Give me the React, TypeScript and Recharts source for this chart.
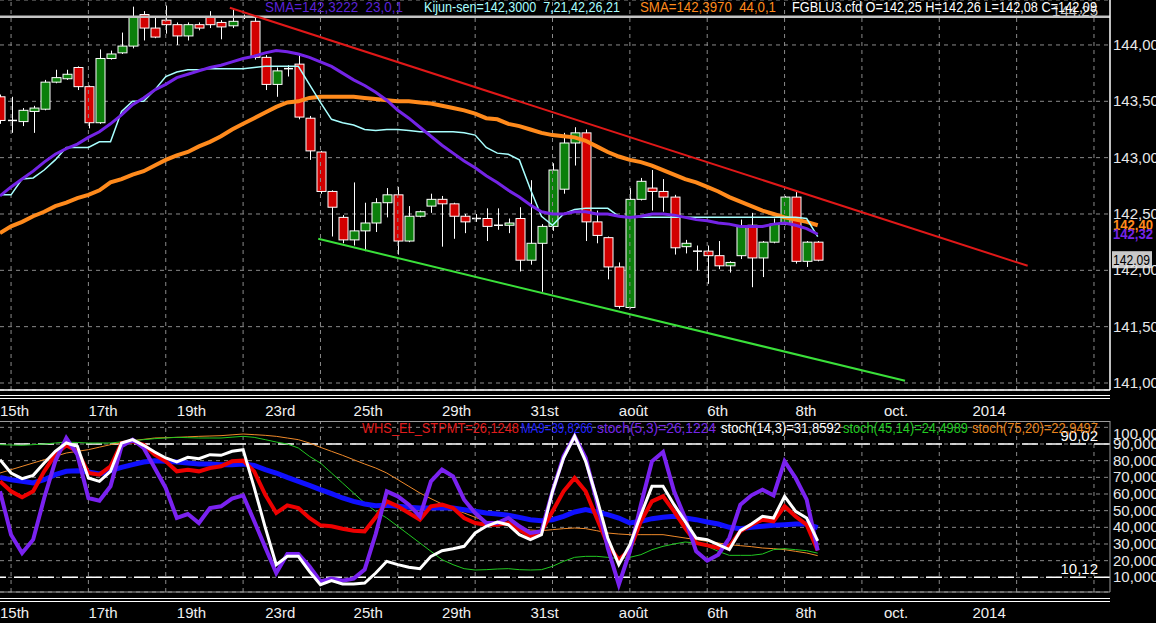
import React from 'react';
import { ComposedChart, Bar, Line, XAxis, YAxis, CartesianGrid, ReferenceLine } from 'recharts';

// FGBLU3 candles, one per bar, oldest first
const open = [
  143.54, 143.33, 143.32, 143.41, 143.43, 143.67, 143.70, 143.80, 143.63, 143.31,
  143.88, 143.93, 143.99, 144.27, 144.15, 144.22, 144.18, 144.08, 144.18, 144.25,
  144.20, 144.17, 144.25, 144.21, 143.89, 143.65, 143.79, 143.83, 143.35, 143.05,
  142.70, 142.47, 142.27, 142.35, 142.42, 142.60, 142.67, 142.26, 142.48, 142.57,
  142.63, 142.59, 142.48, 142.46, 142.46, 142.40, 142.40, 142.46, 142.09, 142.24,
  142.39, 142.72, 143.13, 143.22, 142.43, 142.29, 142.03, 141.67, 142.63, 142.73,
  142.70, 142.65, 142.21, 142.17, 142.17, 142.13, 142.04, 142.13, 142.40, 142.11,
  142.25, 142.41, 142.65, 142.08, 142.25,
];
const close = [
  143.33, 143.33, 143.42, 143.44, 143.67, 143.71, 143.74, 143.63, 143.31, 143.88,
  143.92, 143.99, 144.25, 144.15, 144.07, 144.18, 144.08, 144.18, 144.15, 144.18,
  144.16, 144.21, 144.25, 143.89, 143.65, 143.77, 143.79, 143.36, 143.06, 142.70,
  142.56, 142.27, 142.35, 142.42, 142.60, 142.67, 142.26, 142.48, 142.52, 142.63,
  142.59, 142.48, 142.43, 142.46, 142.39, 142.40, 142.42, 142.09, 142.24, 142.39,
  142.89, 143.13, 143.22, 142.43, 142.31, 142.03, 141.68, 142.63, 142.79, 142.70,
  142.65, 142.20, 142.24, 142.17, 142.13, 142.04, 142.07, 142.39, 142.11, 142.25,
  142.41, 142.65, 142.08, 142.25, 142.09,
];
const high = [
  143.56, 143.54, 143.44, 143.46, 143.69, 143.78, 143.78, 143.81, 143.64, 143.96,
  143.95, 144.11, 144.34, 144.30, 144.24, 144.35, 144.20, 144.20, 144.20, 144.30,
  144.22, 144.32, 144.27, 144.25, 143.91, 143.80, 143.82, 143.91, 143.37, 143.06,
  142.71, 142.49, 142.78, 142.60, 142.64, 142.73, 142.74, 142.57, 142.53, 142.68,
  142.66, 142.60, 142.50, 142.50, 142.55, 142.55, 142.46, 142.56, 142.80, 142.41,
  142.95, 143.22, 143.27, 143.25, 142.53, 142.30, 142.07, 142.73, 142.82, 142.89,
  142.81, 142.67, 142.27, 142.22, 142.22, 142.26, 142.08, 142.45, 142.51, 142.26,
  142.46, 142.66, 142.70, 142.26, 142.26,
];
const low = [
  143.30, 143.22, 143.28, 143.22, 143.42, 143.66, 143.69, 143.60, 143.26, 143.30,
  143.87, 143.92, 143.97, 144.04, 144.06, 144.10, 144.00, 144.04, 144.13, 144.15,
  144.05, 144.15, 144.23, 143.87, 143.60, 143.54, 143.72, 143.34, 142.98, 142.68,
  142.30, 142.24, 142.22, 142.17, 142.34, 142.47, 142.14, 142.25, 142.47, 142.51,
  142.21, 142.28, 142.33, 142.43, 142.26, 142.36, 142.33, 141.99, 142.05, 141.81,
  142.35, 142.68, 142.93, 142.26, 142.24, 141.92, 141.66, 141.66, 142.62, 142.53,
  142.52, 142.14, 142.15, 142.00, 141.88, 142.01, 141.98, 142.10, 141.85, 141.94,
  142.24, 142.40, 142.06, 142.03, 142.08,
];

const sma23 = [
  142.66, 142.74, 142.81, 142.88, 142.96, 143.03, 143.08, 143.12, 143.18, 143.23,
  143.30, 143.38, 143.47, 143.53, 143.60, 143.65, 143.71, 143.74, 143.77, 143.80,
  143.82, 143.85, 143.88, 143.90, 143.93, 143.95, 143.94, 143.92, 143.89, 143.85,
  143.81, 143.75, 143.69, 143.64, 143.58, 143.51, 143.42, 143.35, 143.27, 143.19,
  143.11, 143.04, 142.97, 142.91, 142.84, 142.78, 142.71, 142.65, 142.58, 142.52,
  142.50, 142.50, 142.52, 142.52, 142.50, 142.50, 142.48, 142.47, 142.48, 142.50,
  142.50, 142.49, 142.47, 142.45, 142.44, 142.42, 142.41, 142.39, 142.39, 142.39,
  142.41, 142.42, 142.40, 142.37, 142.32,
];
const sma44 = [
  142.33, 142.39, 142.43, 142.48, 142.52, 142.57, 142.60, 142.64, 142.67, 142.71,
  142.78, 142.81, 142.85, 142.88, 142.93, 142.98, 143.02, 143.05, 143.10, 143.14,
  143.19, 143.25, 143.30, 143.35, 143.40, 143.45, 143.49, 143.50, 143.53, 143.54,
  143.54, 143.54, 143.54, 143.53, 143.52, 143.51, 143.50, 143.50, 143.49, 143.48,
  143.46, 143.44, 143.42, 143.39, 143.35, 143.34, 143.30, 143.28, 143.25, 143.22,
  143.20, 143.19, 143.18, 143.15, 143.10, 143.05, 143.01, 142.98, 142.96, 142.93,
  142.89, 142.85, 142.81, 142.78, 142.74, 142.70, 142.65, 142.61, 142.57, 142.53,
  142.50, 142.47, 142.45, 142.43, 142.40,
];
const kijun = [
  142.67, 142.67, 142.81, 142.82, 142.89, 142.98, 143.09, 143.09, 143.09, 143.14,
  143.14, 143.41, 143.50, 143.50, 143.60, 143.72, 143.76, 143.78, 143.78, 143.79,
  143.79, 143.79, 143.79, 143.80, 143.81, 143.81, 143.81, 143.81, 143.65, 143.49,
  143.34, 143.31, 143.29, 143.25, 143.24, 143.25, 143.25, 143.24, 143.23, 143.23,
  143.23, 143.23, 143.22, 143.20, 143.09, 143.04, 143.03, 142.98, 142.72, 142.48,
  142.40, 142.50, 142.54, 142.55, 142.55, 142.55, 142.48, 142.47, 142.47, 142.47,
  142.47, 142.47, 142.47, 142.47, 142.47, 142.47, 142.47, 142.47, 142.47, 142.47,
  142.47, 142.47, 142.47, 142.46, 142.30,
];

// oscillator panel
const whs = [
  67.6, 61.6, 58, 61.6, 73.6, 83.6, 89.2, 85.6, 72.6, 71.6,
  76.6, 90.6, 91.6, 89.6, 83.6, 79.6, 73.6, 74.6, 73.6, 75.6,
  76.6, 79.6, 80, 73.6, 59.6, 48.6, 53.2, 51.6, 45.6, 41.2,
  40.6, 39.2, 38, 37.6, 46, 55.6, 52.6, 48.6, 44.6, 52.6,
  53.6, 51.6, 45.6, 42.6, 41.6, 41.6, 42.6, 38.6, 34.6, 37.6,
  49.6, 61.6, 69.6, 61.6, 45.6, 29.6, 20.6, 26.6, 43.6, 55.6,
  58.6, 49.6, 39.6, 30.6, 29.2, 27.6, 28.6, 37.6, 41.6, 44.6,
  43.6, 52.6, 46.6, 41.6, 26.1,
];
const ma9 = [
  70, 68.6, 67.6, 66.6, 68.6, 71.6, 73.6, 74, 73.2, 72,
  74, 76, 77.6, 79.2, 80, 79.6, 79.2, 78.6, 78, 78,
  77.6, 77.6, 78, 77.2, 74.6, 72.6, 70, 67.6, 65.2, 62.6,
  60.2, 57.6, 55.6, 54, 53, 53.2, 52.6, 52, 51.6, 51.6,
  51.6, 51.6, 50.6, 49.6, 48.6, 48, 47.2, 46, 44.6, 44,
  44.6, 46.6, 49.2, 50.6, 49.2, 47.6, 45.6, 42.6, 43.6, 45.2,
  46, 46.6, 45.6, 44.6, 43.2, 42, 40, 39.2, 40, 40.6,
  41.2, 41.6, 42, 42, 39.8,
];
const stoch53 = [
  61.6, 35.6, 24.6, 32.6, 57.6, 79.6, 93.6, 83.6, 57.6, 56,
  64.6, 88.6, 92.6, 87.6, 75.6, 63.6, 45.6, 48, 42.6, 51.6,
  52.6, 57.2, 59.2, 43.8, 28, 12.6, 24, 24, 16.6, 7.6,
  9.2, 8, 9.2, 14.6, 36, 61.6, 58.6, 53.6, 46.6, 67.6,
  74.6, 70.6, 56.6, 48.6, 42.6, 42.6, 45.6, 40.6, 36.6, 37.6,
  61.6, 82.6, 94.6, 81.6, 55.6, 27.6, 5.6, 25.6, 53.6, 79.6,
  85.2, 61.6, 45.6, 25.6, 20, 23.6, 33.6, 53.6, 59.2, 62.6,
  59.2, 79.6, 69.6, 56.6, 26.1,
];
const stoch143 = [
  80.6, 72.6, 69.2, 71.2, 78.6, 85.6, 90.6, 88.6, 69.6, 67.6,
  73.6, 90.6, 92.6, 89.2, 85.2, 81.6, 79.2, 82, 81.2, 83.6,
  83.2, 85.6, 86.6, 64, 40, 17.6, 22.6, 22.6, 13.6, 5.6,
  8, 6, 6, 6.6, 12.6, 19.6, 17.6, 16, 15.2, 22.6,
  26, 27.2, 28.6, 36.6, 40.6, 43.2, 41.6, 35.6, 32.6, 35.6,
  61.6, 81.6, 94.6, 79.6, 57.6, 33.6, 17.6, 29.6, 47.6, 64.6,
  64.6, 53.6, 43.6, 33.6, 32.6, 29.6, 26.6, 38, 42, 46.6,
  45.6, 58.6, 49.6, 45.6, 31.9,
];
const stoch4514 = [
  89.6, 89.4, 89.2, 89.6, 90, 90.6, 91.2, 90.9, 90.6, 90.6,
  90.6, 91.3, 92, 92.6, 93.2, 93.6, 94, 93.8, 93.6, 93.6,
  93.6, 94.1, 94.6, 94, 92.6, 91.2, 90, 87.6, 82.6, 78.6,
  72.6, 66.6, 60.6, 54.6, 49.6, 45.6, 40.6, 35.6, 30.6, 25.6,
  20.6, 17.6, 15.2, 14.4, 14.6, 15, 15.2, 14.6, 14.4, 14.6,
  16.6, 19.6, 22, 22.6, 22.6, 22, 21.2, 22, 23.6, 26.6,
  28.6, 30, 31.2, 30.6, 28.6, 25.6, 23.2, 23.2, 23.2, 24,
  26.6, 27.2, 26.6, 26, 24.5,
];
const stoch7520 = [
  72.6, 74.6, 76.6, 78.6, 80.6, 82.6, 84.6, 85.6, 86.6, 88.1,
  89.6, 90.8, 92, 92.8, 93.6, 93.8, 94, 94.3, 94.6, 94.8,
  95, 95.5, 96, 95.6, 95.2, 94.6, 93.6, 92.6, 90.6, 88,
  85.6, 83.2, 80.6, 78, 75.6, 72.6, 68.6, 64.6, 60.6, 57.2,
  54, 51.2, 48.6, 46, 43.6, 42, 41, 39.6, 38.4, 38,
  38.6, 39.2, 39.6, 39.2, 38, 36.6, 36, 35.6, 35.6, 35.6,
  35.6, 34.6, 33.6, 32.6, 31.6, 30.6, 29.6, 29, 28.4, 27.6,
  27.2, 26.6, 25.6, 24.6, 23,
];

const dateTicks = [0, 8, 16, 24, 32, 40, 48, 56, 64, 72, 80, 88];
const dateLabels = ['15th', '17th', '19th', '23rd', '25th', '29th', '31st', 'août', '6th', '8th', 'oct.', '2014'];
const gridX = [1, 8, 15, 22, 29, 36, 43, 50, 57, 64, 71, 78, 85, 92, 99];
const priceTicks = [141, 141.5, 142, 142.5, 143, 143.5, 144];
const oscTicks = [10, 20, 30, 40, 50, 60, 70, 80, 90, 100];

const resistance = [{ x: 20.8, y: 144.33 }, { x: 93.0, y: 142.04 }];
const support = [{ x: 28.8, y: 142.28 }, { x: 81.9, y: 141.02 }];

const NARROW = "'Liberation Sans Narrow', 'Arial Narrow', 'Liberation Sans', Arial, sans-serif";

const candleData = open.map((o, i) => ({
  i,
  open: o,
  close: close[i],
  high: high[i],
  low: low[i],
  range: [low[i], high[i]],
  sma23: sma23[i],
  sma44: sma44[i],
  kijun: kijun[i],
}));

const oscData = whs.map((w, i) => ({
  i,
  whs: w,
  ma9: ma9[i],
  s53: stoch53[i],
  s143: stoch143[i],
  s4514: stoch4514[i],
  s7520: stoch7520[i],
}));

const comma = (v: number, d: number) => v.toFixed(d).replace('.', ',');

function Candle(props: any) {
  const { x, y, width, height, payload } = props;
  if (!payload) return null;
  const top = Math.min(y, y + height);
  const h = Math.abs(height);
  const span = payload.high - payload.low || 1;
  const py = (p: number) => top + ((payload.high - p) / span) * h;
  const cx = Math.round(x + width / 2) + 0.5;
  const bw = 9;
  const yo = py(payload.open);
  const yc = py(payload.close);
  const bodyTop = Math.min(yo, yc);
  const bodyH = Math.abs(yo - yc);
  const up = payload.close > payload.open;
  const fill = up ? '#0b7f0b' : '#d20000';
  return (
    <g>
      <line x1={cx} x2={cx} y1={top} y2={top + h} stroke="#fff" strokeWidth={1} />
      {bodyH < 1.2 ? (
        <line x1={cx - bw / 2} x2={cx + bw / 2} y1={bodyTop} y2={bodyTop} stroke="#fff" strokeWidth={1.5} />
      ) : (
        <rect x={cx - bw / 2} y={bodyTop} width={bw} height={bodyH} fill={fill} stroke="#fff" strokeWidth={1} />
      )}
    </g>
  );
}

function DateTick(props: any) {
  const { x, y, payload } = props;
  const k = dateTicks.indexOf(payload.value);
  return (
    <text x={Math.max(x, 0)} y={y + 18} fill="#f0f0f0" fontSize={15} fontFamily={NARROW} textAnchor="start">
      {dateLabels[k]}
    </text>
  );
}

function PriceTick(props: any) {
  const { x, y, payload } = props;
  return (
    <text x={x} y={y + 5} fill="#e8e8e8" fontSize={15} fontFamily={NARROW} textAnchor="start">
      {comma(payload.value, 2)}
    </text>
  );
}

function OscTick(props: any) {
  const { x, y, payload } = props;
  const v = payload.value;
  const txt = v === 100 ? '100,000' : comma(v, 4);
  return (
    <text x={x} y={y + (v === 100 ? 12 : 5)} fill="#e8e8e8" fontSize={15} fontFamily={NARROW} textAnchor="start">
      {txt}
    </text>
  );
}

function SideTag(props: any) {
  const { viewBox, text, color, boxed } = props;
  if (!viewBox) return null;
  const tx = viewBox.x + viewBox.width + 3;
  const ty = viewBox.y;
  if (boxed) {
    return (
      <g>
        <rect x={tx - 1} y={ty - 9} width={40} height={17} fill="#c8c8c8" />
        <text x={tx} y={ty + 5} fill="#000" fontSize={15} fontFamily={NARROW} textLength={37} lengthAdjust="spacingAndGlyphs">{text}</text>
      </g>
    );
  }
  return (
    <text x={tx} y={ty + 5} fill={color} fontSize={15} fontWeight="bold" fontFamily={NARROW}
      textLength={40} lengthAdjust="spacingAndGlyphs">{text}</text>
  );
}

function InnerTag(props: any) {
  const { viewBox, text, color, dy, dx } = props;
  if (!viewBox) return null;
  return (
    <text x={viewBox.x + viewBox.width - dx} y={viewBox.y + dy} fill={color} fontSize={15} fontFamily={NARROW} textAnchor="end">
      {text}
    </text>
  );
}

const topLegend = [
  { text: 'SMA=142,3222  23,0,1', x: 265, w: 138, color: '#5b22d6' },
  { text: 'Kijun-sen=142,3000  7,21,42,26,21', x: 424, w: 196, color: '#a8ffff' },
  { text: 'SMA=142,3970  44,0,1', x: 640, w: 136, color: '#ff8a1c' },
  { text: 'FGBLU3.cfd O=142,25 H=142,26 L=142,08 C=142,09', x: 792, w: 305, color: '#ffffff' },
];
const oscLegend = [
  { text: 'WHS_EL_STPMT=26,1248', x: 362, w: 157, color: '#e01c1c' },
  { text: 'MA9=39,8266', x: 521, w: 72, color: '#2222ff' },
  { text: 'stoch(5,3)=26,1224', x: 597, w: 119, color: '#7424e6' },
  { text: 'stoch(14,3)=31,8592', x: 721, w: 120, color: '#ffffff' },
  { text: 'stoch(45,14)=24,4989', x: 843, w: 125, color: '#22c822' },
  { text: 'stoch(75,20)=22,9497', x: 972, w: 126, color: '#e8841c' },
];

const GRID = '#8a8a8a';

export default function App() {
  const last = close.length - 1;
  return (
    <div style={{ position: 'fixed', left: 0, top: 0, width: 1156, height: 623, background: '#000', overflow: 'hidden' }}>
      <div style={{ position: 'absolute', left: 0, top: 0 }}>
        <ComposedChart width={1156} height={421} data={candleData} margin={{ top: 0, right: 0, bottom: 0, left: 0 }}>
          <CartesianGrid vertical={false} stroke={GRID} strokeDasharray="4 4" />
          <XAxis type="number" dataKey="i" domain={[0, 100.45]} allowDataOverflow ticks={dateTicks} interval={0}
            height={31} tick={<DateTick />} tickLine={false} axisLine={{ stroke: '#fff', strokeWidth: 1.5 }} />
          <YAxis orientation="right" domain={[140.938, 144.399]} allowDataOverflow ticks={priceTicks} interval={0}
            width={46} tick={<PriceTick />} tickLine={false} tickSize={0} tickMargin={3} axisLine={{ stroke: '#fff', strokeWidth: 1.5 }} />
          {gridX.map(v => (
            <ReferenceLine key={v} x={v} stroke={GRID} strokeDasharray="4 4" />
          ))}
          <ReferenceLine y={144.25} stroke="#c4c4c4" strokeWidth={2.5}
            label={<InnerTag text="144,25" color="#c4c4c4" dy={-1} dx={12} />} />
          <ReferenceLine segment={resistance} stroke="#e01818" strokeWidth={2} ifOverflow="visible" />
          <ReferenceLine segment={support} stroke="#3ae03a" strokeWidth={2} ifOverflow="visible" />
          <Bar dataKey="range" barSize={10} shape={<Candle />} isAnimationActive={false} />
          <Line dataKey="sma44" stroke="#ff8a1c" strokeWidth={4} dot={false} activeDot={false} isAnimationActive={false} />
          <Line dataKey="kijun" stroke="#a8ffff" strokeWidth={1.5} dot={false} activeDot={false} isAnimationActive={false} />
          <Line dataKey="sma23" stroke="#7424e6" strokeWidth={3} dot={false} activeDot={false} isAnimationActive={false} />
          <ReferenceLine y={sma44[last]} stroke="none" label={<SideTag text={comma(sma44[last], 2)} color="#ff8a1c" />} />
          <ReferenceLine y={sma23[last]} stroke="none" label={<SideTag text={comma(sma23[last], 2)} color="#7424e6" />} />
          <ReferenceLine y={close[last]} stroke="none" label={<SideTag text={comma(close[last], 2)} boxed />} />
        </ComposedChart>
      </div>

      <div style={{ position: 'absolute', left: 0, top: 421 }}>
        <ComposedChart width={1156} height={202} data={oscData} margin={{ top: 0, right: 0, bottom: 0, left: 0 }}>
          <CartesianGrid vertical={false} stroke={GRID} strokeDasharray="4 4" />
          <XAxis type="number" dataKey="i" domain={[0, 100.45]} allowDataOverflow ticks={dateTicks} interval={0}
            height={31} tick={<DateTick />} tickLine={false} axisLine={{ stroke: '#9a9a9a' }} />
          <YAxis orientation="right" domain={[1.2, 103.8]} allowDataOverflow ticks={oscTicks} interval={0}
            width={46} tick={<OscTick />} tickLine={false} tickSize={0} tickMargin={3} axisLine={{ stroke: '#9a9a9a' }} />
          {gridX.map(v => (
            <ReferenceLine key={v} x={v} stroke={GRID} strokeDasharray="4 4" />
          ))}
          <ReferenceLine y={90.02} stroke="#fff" strokeWidth={1.5} strokeDasharray="16 8"
            label={<InnerTag text="90,02" color="#fff" dy={-3} dx={12} />} />
          <ReferenceLine y={10.12} stroke="#fff" strokeWidth={1.5} strokeDasharray="16 8"
            label={<InnerTag text="10,12" color="#fff" dy={-3} dx={12} />} />
          <Line dataKey="s7520" stroke="#f08a2a" strokeWidth={1} dot={false} activeDot={false} isAnimationActive={false} />
          <Line dataKey="s4514" stroke="#22c822" strokeWidth={1} dot={false} activeDot={false} isAnimationActive={false} />
          <Line dataKey="ma9" stroke="#1010ff" strokeWidth={5} dot={false} activeDot={false} isAnimationActive={false} />
          <Line dataKey="whs" stroke="#ee0000" strokeWidth={4} dot={false} activeDot={false} isAnimationActive={false} />
          <Line dataKey="s53" stroke="#7a22f0" strokeWidth={4} dot={false} activeDot={false} isAnimationActive={false} />
          <Line dataKey="s143" stroke="#ffffff" strokeWidth={3} dot={false} activeDot={false} isAnimationActive={false} />
        </ComposedChart>
      </div>

      {/* frame lines between panels */}
      <div style={{ position: 'absolute', left: 0, top: 395, width: 1110, height: 1, background: '#fff' }} />
      <div style={{ position: 'absolute', left: 0, top: 398, width: 1110, height: 1, background: '#fff' }} />
      <div style={{ position: 'absolute', left: 0, top: 421, width: 1110, height: 1, background: '#9a9a9a' }} />
      <div style={{ position: 'absolute', left: 0, top: 598, width: 1110, height: 1, background: '#fff' }} />
      <div style={{ position: 'absolute', left: 0, top: 601, width: 1110, height: 1, background: '#fff' }} />

      <svg width={1156} height={623} style={{ position: 'absolute', left: 0, top: 0, pointerEvents: 'none' }}>
        {topLegend.map(t => (
          <text key={t.text} x={t.x} y={12} fill={t.color} fontSize={15} fontFamily={NARROW}
            textLength={t.w} lengthAdjust="spacingAndGlyphs" style={{ whiteSpace: 'pre' }}>{t.text}</text>
        ))}
        {oscLegend.map(t => (
          <text key={t.text} x={t.x} y={433} fill={t.color} fontSize={15} fontFamily={NARROW}
            textLength={t.w} lengthAdjust="spacingAndGlyphs">{t.text}</text>
        ))}
      </svg>
    </div>
  );
}
